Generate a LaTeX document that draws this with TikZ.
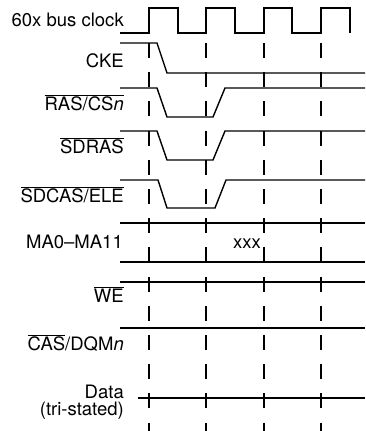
\documentclass[tikz,border=0pt]{standalone}
\usepackage{fontspec}
\setmainfont{TeX Gyre Heros}
\usepackage{tikz}

\newcommand{\ovl}[1]{\ensuremath{\overline{\mbox{#1}}}}

\begin{document}
\begin{tikzpicture}[x=1pt, y=-1pt, font=\fontsize{18.5}{22}\selectfont]
	
	\useasboundingbox (0,0) rectangle (365,431);
	
	% Stili per etichette, segnali e linee tratteggiate
	\tikzset{
		etichetta/.style={
			anchor=base east,
			inner sep=0pt
		},
		segnale/.style={
			line width=1.4pt,
			line join=miter
		},
		griglia/.style={
			line width=1.4pt,
			dash pattern=on 15pt off 14.2pt
		}
	}
	
	% Nomi dei segnali a sinistra
	\node[etichetta] (clk)   at (124, 27)  {60x bus clock};
	\node[etichetta] (cke)   at (124, 67)  {CKE};
	\node[etichetta] (ras)   at (124, 110) {\ovl{RAS/CS\textit{n}}};
	\node[etichetta] (sdras) at (124, 153) {\ovl{SDRAS}};
	\node[etichetta] (sdcas) at (124, 202) {\ovl{SDCAS/ELE}};
	\node[etichetta] (ma)    at (123, 248) {MA0--MA11};
	\node[etichetta] (we)    at (124, 302) {\ovl{WE}};
	\node[etichetta] (cas)   at (124, 350) {\ovl{CAS}/DQM\textit{n}};
	\node[etichetta] (data)  at (124, 398) {Data};
	\node[etichetta] (tri)   at (124, 415) {(tri-stated)};
	
	% Linee tratteggiate sui fronti di salita del clock
	\draw[griglia] (149, 43) -- (149, 431);
	\draw[griglia] (206, 43) -- (206, 431);
	\draw[griglia] (264, 43) -- (264, 431);
	\draw[griglia] (321, 43) -- (321, 431);
	
	% Clock del bus
	\draw[segnale] (120,33) -- (149,33) -- (149,8) -- (178,8) -- (178,33)
		-- (206,33) -- (206,8) -- (235,8) -- (235,33)
		-- (264,33) -- (264,8) -- (292,8) -- (292,33)
		-- (321,33) -- (321,8) -- (350,8) -- (350,33);
	
	% CKE
	\draw[segnale] (120,43) -- (157,43) -- (167,73) -- (365,73);
	
	% RAS/CSn, SDRAS, SDCAS/ELE
	\draw[segnale] (120,88) -- (157,88) -- (167,117) -- (213,117) -- (225,88) -- (365,88);
	\draw[segnale] (120,131) -- (157,131) -- (167,160) -- (213,160) -- (225,131) -- (365,131);
	\draw[segnale] (120,180) -- (158,180) -- (167,208) -- (215,208) -- (226,180) -- (365,180);
	
	% Bus degli indirizzi
	\draw[segnale] (120,223) -- (365,223);
	\draw[segnale] (120,262) -- (365,262);
	\node[anchor=base, inner sep=0pt] (xxx) at (247, 248) {xxx};
	
	% WE, CAS/DQMn, dati
	\draw[segnale] (120,282) -- (365,282);
	\draw[segnale] (120,328) -- (365,328);
	\draw[segnale] (138,398) -- (365,398);
	
\end{tikzpicture}
\end{document}
